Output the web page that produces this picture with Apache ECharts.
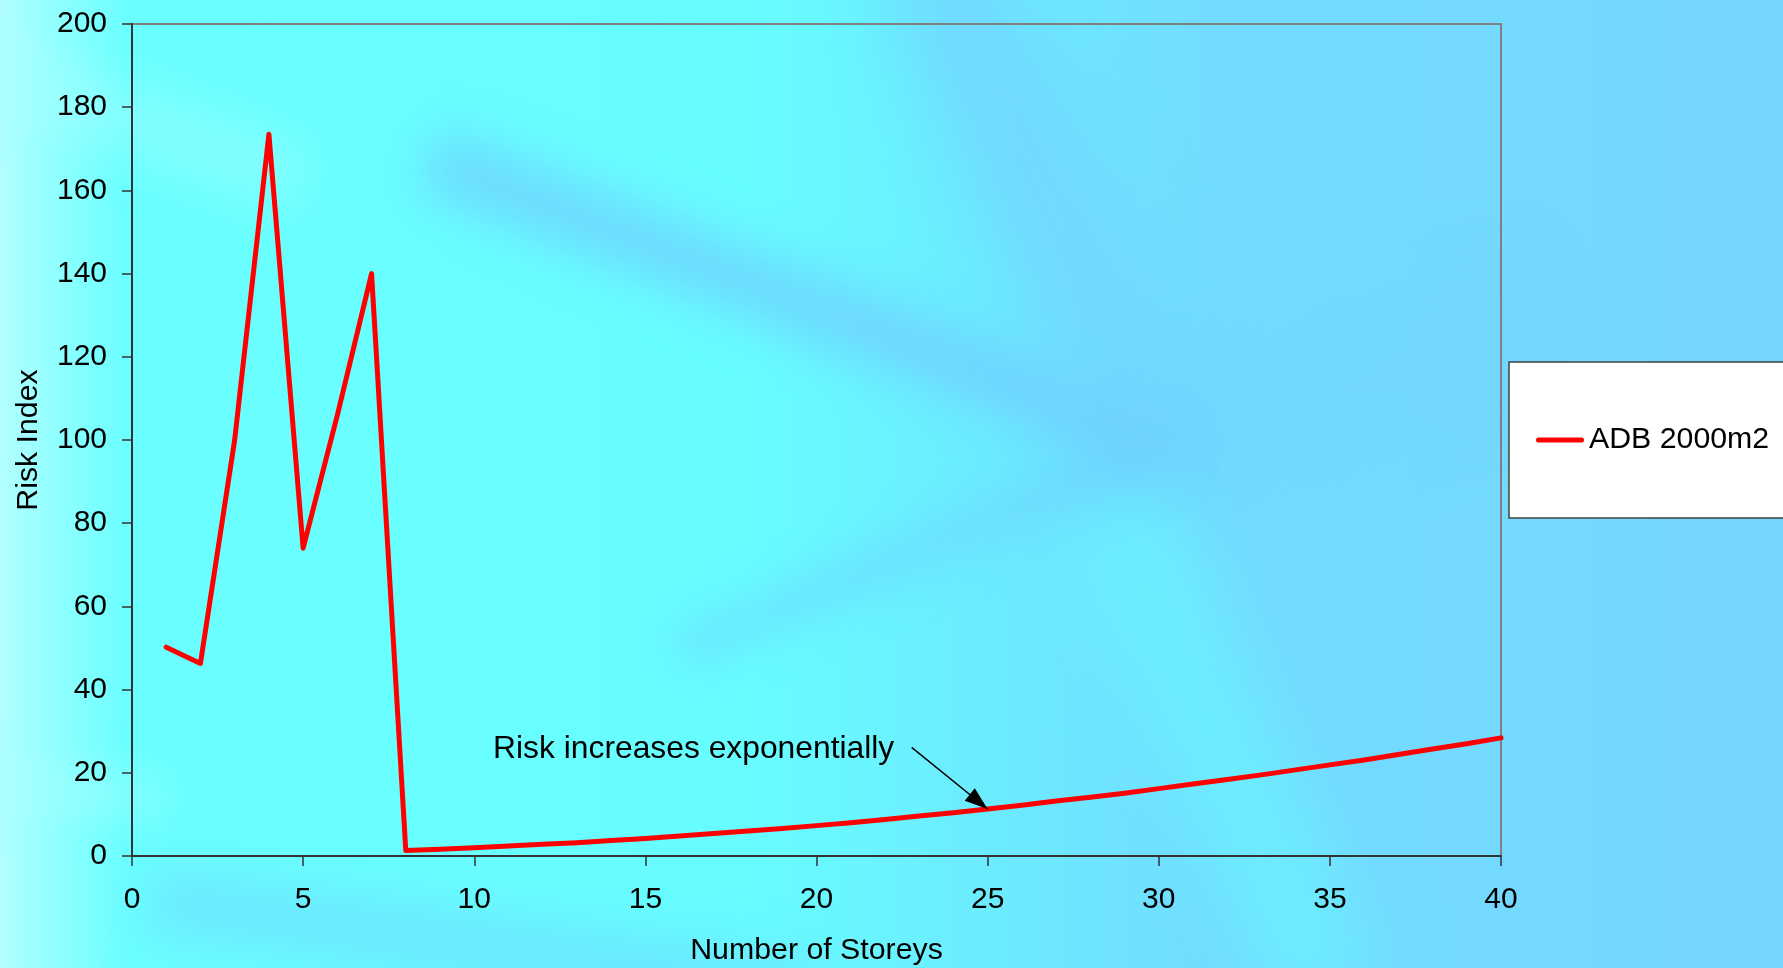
<!DOCTYPE html>
<html>
<head>
<meta charset="utf-8">
<title>Risk Index vs Number of Storeys</title>
<script src="https://cdn.jsdelivr.net/npm/echarts@6/dist/echarts.min.js"></script>
<style>
  html, body { margin: 0; padding: 0; width: 100%; height: 100%; overflow: hidden; }
  #chart { width: 1783px; height: 968px; }
</style>
</head>
<body>
<div id="chart"></div>
<script>
// Number of storeys on the x axis, one reading per storey
const storeys = [
  1, 2, 3, 4, 5, 6, 7, 8, 9, 10,
  11, 12, 13, 14, 15, 16, 17, 18, 19, 20,
  21, 22, 23, 24, 25, 26, 27, 28, 29, 30,
  31, 32, 33, 34, 35, 36, 37, 38, 39, 40
];

// Risk index for an ADB of 2000 m2 per storey count
const riskIndex = [
  50.2, 46.3, 100.0, 173.5, 74.0, 106.0, 140.0, 1.3, 1.6, 2.0,
  2.4, 2.8, 3.2, 3.7, 4.2, 4.8, 5.4, 6.0, 6.6, 7.3,
  8.0, 8.8, 9.6, 10.4, 11.3, 12.2, 13.2, 14.1, 15.1, 16.2,
  17.3, 18.4, 19.5, 20.7, 21.9, 23.1, 24.4, 25.7, 27.0, 28.4
];

const seriesName = 'ADB 2000m2';

// Axis ranges and tick steps
const xRange = [0, 40];
const xStep = 5;
const yRange = [0, 200];
const yStep = 20;

const annotationText = 'Risk increases exponentially';
const annotatedStorey = 25;

const FONT = '"Liberation Sans", Arial, Helvetica, sans-serif';
const FS_TICK = 30;
const FS_TITLE = 30.3;
const FS_NOTE = 31.8;

const points = storeys.map((s, i) => [s, riskIndex[i]]);
const annotatedPoint = points[storeys.indexOf(annotatedStorey)];

// Soft streaks in the backdrop, drawn as blurred shadows of off-canvas bands
const SHIFT = 5000;
function streak(x1, y1, x2, y2, w, color, blur) {
  const dx = x2 - x1, dy = y2 - y1;
  const len = Math.hypot(dx, dy);
  const nx = -dy / len * w / 2, ny = dx / len * w / 2;
  return {
    type: 'polygon',
    silent: true,
    z: -10,
    shape: {
      points: [
        [x1 + nx - SHIFT, y1 + ny], [x2 + nx - SHIFT, y2 + ny],
        [x2 - nx - SHIFT, y2 - ny], [x1 - nx - SHIFT, y1 - ny]
      ]
    },
    style: {
      fill: '#000',
      shadowColor: color,
      shadowBlur: blur,
      shadowOffsetX: SHIFT,
      shadowOffsetY: 0
    }
  };
}

const backdrop = [
  streak(430, 160, 1170, 445, 60, 'rgba(112,205,255,0.8)', 50),
  streak(930, -40, 1170, 445, 120, 'rgba(114,214,255,0.8)', 70),
  streak(1170, 445, 1520, 330, 120, 'rgba(114,214,255,0.6)', 70),
  streak(680, 650, 1170, 445, 40, 'rgba(112,208,255,0.5)', 40),
  streak(1120, 520, 1330, 1000, 110, 'rgba(106,248,255,0.6)', 70),
  streak(150, 900, 800, 990, 60, 'rgba(112,208,255,0.5)', 50),
  streak(-40, 60, 300, 180, 60, 'rgba(170,255,255,0.45)', 50),
  streak(-40, 780, 160, 800, 40, 'rgba(170,255,255,0.5)', 40)
];

const chart = echarts.init(document.getElementById('chart'), null, { renderer: 'canvas' });

chart.setOption({
  animation: false,
  backgroundColor: new echarts.graphic.LinearGradient(0, 0, 1, 0, [
    { offset: 0, color: '#b2ffff' },
    { offset: 0.035, color: '#8dffff' },
    { offset: 0.07, color: '#6bffff' },
    { offset: 0.42, color: '#67fdff' },
    { offset: 0.55, color: '#6cecff' },
    { offset: 0.68, color: '#72dcff' },
    { offset: 1, color: '#76d6ff' }
  ]),
  textStyle: { fontFamily: FONT, color: '#000' },
  graphic: backdrop,
  grid: {
    left: 132,
    top: 24,
    right: 282,
    bottom: 112,
    outerBoundsMode: 'none',
    containLabel: false,
    show: true,
    borderColor: '#808080',
    borderWidth: 2,
    backgroundColor: 'transparent'
  },
  legend: {
    left: 1509,
    top: 362,
    orient: 'vertical',
    backgroundColor: '#ffffff',
    borderColor: '#404040',
    borderWidth: 1.5,
    borderRadius: 0,
    padding: [63, 400, 63, 27],
    itemWidth: 48,
    itemHeight: 5,
    textStyle: { fontFamily: FONT, fontSize: FS_TITLE, color: '#000' },
    data: [
      {
        name: seriesName,
        // short red stroke with rounded ends
        icon: 'path://M2.5,0 L45.5,0 A2.5,2.5 0 0 1 45.5,5 L2.5,5 A2.5,2.5 0 0 1 2.5,0 Z'
      }
    ]
  },
  xAxis: {
    type: 'value',
    min: xRange[0],
    max: xRange[1],
    interval: xStep,
    name: 'Number of Storeys',
    nameLocation: 'middle',
    nameGap: 80,
    nameTextStyle: { fontFamily: FONT, fontSize: FS_TITLE, color: '#000' },
    axisLine: { show: true, onZero: false, lineStyle: { color: '#333333', width: 2 } },
    axisTick: { show: true, inside: false, length: 10, lineStyle: { color: '#333333', width: 1.5 } },
    axisLabel: { fontFamily: FONT, fontSize: FS_TICK, color: '#000', margin: 29 },
    splitLine: { show: false }
  },
  yAxis: {
    type: 'value',
    min: yRange[0],
    max: yRange[1],
    interval: yStep,
    name: 'Risk Index',
    nameLocation: 'middle',
    nameGap: 88,
    nameTextStyle: { fontFamily: FONT, fontSize: FS_TITLE, color: '#000' },
    axisLine: { show: true, onZero: false, lineStyle: { color: '#333333', width: 2 } },
    axisTick: { show: true, inside: false, length: 10, lineStyle: { color: '#333333', width: 1.5 } },
    axisLabel: { fontFamily: FONT, fontSize: FS_TICK, color: '#000', margin: 25 },
    splitLine: { show: false }
  },
  series: [
    {
      name: seriesName,
      type: 'line',
      data: points,
      symbol: 'none',
      smooth: false,
      color: '#ff0000',
      lineStyle: { color: '#ff0000', width: 5, cap: 'round', join: 'round' },
      z: 3,
      markPoint: {
        silent: true,
        symbol: 'circle',
        symbolSize: 0,
        data: [
          {
            coord: [10.55, 25.6],
            label: {
              show: true,
              position: 'right',
              distance: 0,
              formatter: annotationText,
              fontFamily: FONT,
              fontSize: FS_NOTE,
              color: '#000'
            }
          }
        ]
      },
      markLine: {
        silent: true,
        animation: false,
        label: { show: false },
        lineStyle: { color: '#000', width: 1.5, type: 'solid' },
        emphasis: { disabled: true },
        data: [
          [
            { coord: [22.78, 26.1], symbol: 'none' },
            { coord: annotatedPoint, symbol: 'triangle', symbolSize: [16, 23], symbolOffset: [0, '50%'] }
          ]
        ]
      }
    }
  ]
});
</script>
</body>
</html>
